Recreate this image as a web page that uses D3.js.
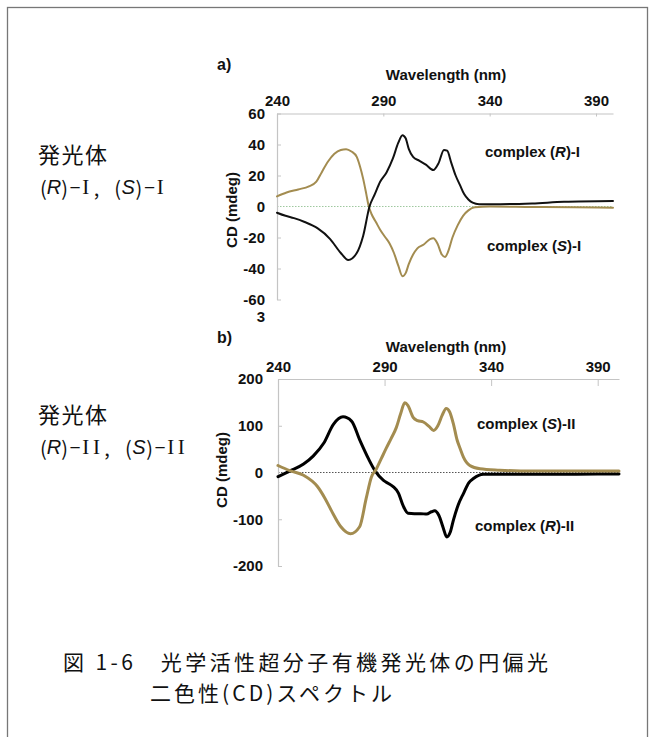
<!DOCTYPE html>
<html><head><meta charset="utf-8">
<script src="https://cdn.jsdelivr.net/npm/d3@7"></script>
<style>
html,body{margin:0;padding:0;background:#fff;}
svg{display:block;}
.ax text{font-family:"Liberation Sans",Arial,sans-serif;font-weight:bold;font-size:15px;fill:#111;}
.lbl{font-family:"Liberation Sans",Arial,sans-serif;font-weight:bold;font-size:15px;fill:#111;}
.jp{font-family:"Noto Sans CJK JP",sans-serif;fill:#111;}
</style></head>
<body>
<svg id="c" width="653" height="737"></svg>
<script>
// ---- data ----
const xTicks = [240, 290, 340, 390];
const yTicksA = [60, 40, 20, 0, -20, -40, -60];
const yTicksB = [200, 100, 0, -100, -200];

// Panel a: complex (R)-I (black)
const wlRI  = [240,244,248,253,259,265,270,273.5,277.5,280.5,283.5,286,288.5,291.5,294.5,297,299,300.5,302,304,307,310,313.5,316,318.5,320,322,324,326,328,330,332,335,345,360,375,398];
const cdRI  = [-4,-6,-7.5,-10,-14,-21,-30,-34.5,-30,-19,0,8,16,22,31,41,46,44,37,32,29.5,27,23.5,28,36.5,36,28,20,14,8,4.5,2.5,1.5,1.5,2,3,3.5];
// Panel a: complex (S)-I (gold)
const wlSI  = [240,244.5,250,255,258.5,261,264,267,270,272.5,275,277.5,279,280.5,282,283,284.5,286.5,288.5,291,293,295,297,299,300.5,302,304,306,309,312,313.5,315.5,317.5,319,320.5,322.5,325,327.5,330,333,340,360,380,398];
const cdSI  = [6.5,9,11,13,16,22,29,34,36.5,37,35.5,32,26,18,8,1,-5,-10,-15,-20,-24,-30,-38,-45,-43,-37,-31,-27,-24.5,-21,-20.5,-24,-31,-32.5,-29,-20,-12,-6,-2.5,-0.5,0,-0.3,-0.5,-0.8];

// Panel b: complex (R)-II (black)
const wlRII = [240,245.5,252,256.5,261.5,266,270.5,274.5,278.5,282.5,285.5,289.5,292,294,296.5,298.8,301,304,307,309.8,312,313.5,315.5,317.5,319.2,320.8,322.3,324.5,327,329.5,331.7,336.4,345,360,380,400];
const cdRII = [-9,3,18,35,63,103,119,110,68,29,4,-17,-24,-30,-44,-72,-87,-88,-88,-89,-84,-82,-92,-118,-138,-128,-102,-70,-45,-22,-13,-4,-4,-4,-3.5,-3];
// Panel b: complex (S)-II (gold)
const wlSII = [240,245.5,252,258.5,262,265,269.5,274,278.3,281.4,283.8,286.2,288.5,290.8,293,295.5,297.5,299.5,301,303.4,305.5,308.2,311,313,315,317,318.9,320.5,322.3,324,325.4,327,330,334.8,344,360,380,400];
const cdSII = [15,4,-6,-30,-55,-81,-116,-131,-116,-55,-10,8,30,52,72,96,125,149,143,118,111,108,98,90,100,122,137,130,104,70,52,33,15,8,5,3,3,3];

const BLACK = "#111111", GOLD = "#a38c50";

const svg = d3.select("#c");

// frame
svg.append("rect").attr("x",7.5).attr("y",7.5).attr("width",640).attr("height",745)
  .attr("fill","none").attr("stroke","#777").attr("stroke-width",1.3);

function panel(opt){
  const x = d3.scaleLinear().domain(opt.xDom).range(opt.xRange);
  const y = d3.scaleLinear().domain(opt.yDom).range(opt.yRange);
  const g = svg.append("g");
  g.append("line").attr("x1",opt.xRange[0]).attr("x2",opt.xRange[1])
    .attr("y1",y(0)).attr("y2",y(0))
    .attr("stroke",opt.zeroColor).attr("stroke-width",1).attr("stroke-dasharray","1.5,1.5");
  g.append("g").attr("class","ax").attr("transform",`translate(0,${opt.yRange[1]})`)
    .call(d3.axisTop(x).tickValues(xTicks).tickSizeInner(-opt.tickLen).tickSizeOuter(0).tickPadding(opt.xPad).tickFormat(d=>String(d)));
  const ay = g.append("g").attr("class","ax").attr("transform",`translate(${opt.xRange[0]},0)`)
    .call(d3.axisLeft(y).tickValues(opt.yTicks).tickSizeInner(-4).tickSizeOuter(0).tickPadding(opt.yPad).tickFormat(d=>String(d)));
  g.selectAll(".ax path.domain").attr("stroke","#c4c4c4").attr("stroke-width",1.2);
  g.selectAll(".ax .tick line").attr("stroke","#c4c4c4").attr("stroke-width",1);
  ay.selectAll(".tick").filter(d=>d===0).select("line").remove();
  const line = d3.line().x(d=>x(d[0])).y(d=>y(d[1])).curve(d3.curveMonotoneX);
  opt.series.forEach(s=>{
    g.append("path").datum(d3.zip(s.wl, s.cd)).attr("d",line)
      .attr("fill","none").attr("stroke",s.color).attr("stroke-width",opt.lw)
      .attr("stroke-linejoin","round").attr("stroke-linecap","round");
  });
  g.append("text").attr("class","lbl").attr("x",217).attr("y",opt.panelY).style("font-size","16px").text(opt.panel);
  g.append("text").attr("class","lbl").attr("x",446).attr("y",opt.wlY).attr("text-anchor","middle").text("Wavelength (nm)");
  g.append("text").attr("class","lbl").attr("transform",`translate(${opt.cdX},${opt.cdY}) rotate(-90)`)
    .attr("text-anchor","middle").attr("dy","0.35em").text("CD (mdeg)");
  opt.legends.forEach(l=>{
    const t = g.append("text").attr("class","lbl").attr("x",l.x).attr("y",l.y);
    t.append("tspan").text("complex (");
    t.append("tspan").attr("font-style","italic").text(l.iso);
    t.append("tspan").text(")-" + l.num);
  });
  return {x,y,g};
}

panel({
  xDom:[240,398], xRange:[277,613], yDom:[-60,60], yRange:[299.5,113.5], yTicks:yTicksA,
  zeroColor:"#9fc89f", tickLen:3, xPad:8, yPad:12, lw:2,
  series:[{wl:wlSI,cd:cdSI,color:GOLD},{wl:wlRI,cd:cdRI,color:BLACK}],
  panel:"a)", panelY:70, wlY:80, cdX:232, cdY:210,
  legends:[{x:485,y:157,iso:"R",num:"I"},{x:487,y:251,iso:"S",num:"I"}]
});
svg.append("text").attr("class","lbl").attr("x",265).attr("y",322).attr("text-anchor","end").text("3");

panel({
  xDom:[240,400], xRange:[278,619], yDom:[-200,200], yRange:[566,379], yTicks:yTicksB,
  zeroColor:"#555", tickLen:7, xPad:7, yPad:15, lw:3,
  series:[{wl:wlRII,cd:cdRII,color:"#000"},{wl:wlSII,cd:cdSII,color:GOLD}],
  panel:"b)", panelY:343, wlY:352, cdX:222, cdY:470,
  legends:[{x:477,y:429,iso:"S",num:"II"},{x:475,y:531,iso:"R",num:"II"}]
});

// left Japanese labels (monospaced half-width cells)
function jpLabel(y1, y2, num){
  svg.append("text").attr("class","jp").attr("x",38).attr("y",y1).attr("dominant-baseline","central")
    .style("font-size","22px").attr("textLength",69).attr("lengthAdjust","spacing").text("発光体");
  const cells = ["(", "R", ")", "−"].concat(num.split(""), [",", " ", "(", "S", ")", "−"], num.split(""));
  const g = svg.append("g");
  cells.forEach((c,i)=>{
    if (c === " ") return;
    const t = g.append("text").attr("x", 38 + (i+0.5)*10.62).attr("y", y2)
      .attr("text-anchor","middle").attr("dominant-baseline","central").attr("fill","#111");
    if (c === "R" || c === "S") t.attr("font-family","Liberation Sans").attr("font-style","italic").style("font-size","20px");
    else if (c === "I") t.attr("font-family","Liberation Serif").style("font-size","21px");
    else if (c === "−") t.attr("font-family","Liberation Sans").style("font-size","19px");
    else t.attr("font-family","Noto Sans CJK JP").style("font-size","20px");
    t.text(c);
  });
}
jpLabel(153, 187, "I");
jpLabel(413, 447, "II");

// caption
svg.append("text").attr("class","jp").attr("x",63).attr("y",661).attr("dominant-baseline","central")
  .style("font-size","21px").attr("textLength",485).attr("lengthAdjust","spacing")
  .text("図 1-6　光学活性超分子有機発光体の円偏光");
svg.append("text").attr("class","jp").attr("x",150).attr("y",692).attr("dominant-baseline","central")
  .style("font-size","21px").attr("textLength",242).attr("lengthAdjust","spacing")
  .text("二色性(CD)スペクトル");
</script>
</body></html>
